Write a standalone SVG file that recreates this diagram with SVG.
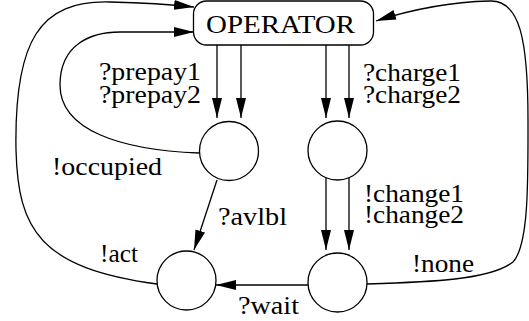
<svg xmlns="http://www.w3.org/2000/svg" width="529" height="321" viewBox="0 0 529 321">
<style>
.n{fill:#fff;stroke:#000;stroke-width:1.3}
.e{fill:none;stroke:#000;stroke-width:1.3;marker-end:url(#ah)}
.l{fill:none;stroke:#000;stroke-width:1.3}
text{font-family:"Liberation Serif","Times New Roman",serif;font-size:25px;fill:#000}
</style>
<defs>
<marker id="ah" markerUnits="userSpaceOnUse" markerWidth="20" markerHeight="10" refX="20" refY="5" orient="auto">
<path d="M0,0 L20,5 L0,10 z" fill="#000"/>
</marker>
</defs>
<rect width="529" height="321" fill="#fff"/>
<g id="connectors">
<path class="e" d="M217,45 L217,118"/>
<path class="e" d="M241,45 L241,118"/>
<path class="e" d="M326,45 L326,118"/>
<path class="e" d="M349,45 L349,118"/>
<path class="e" d="M326,178 L326,250"/>
<path class="e" d="M349,178 L349,250"/>
<path class="e" d="M217,180 L194,250"/>
<path class="e" d="M308,285 L216,285"/>
<path class="e" d="M199,153 C120,150 60,130 60,85 C60,45 90,32 120,32 L194,32"/>
<path class="e" d="M157,284 C40,268 18,230 16,150 C14,40 40,0 110,2 C150,3 175,5 194,7"/>
<path class="e" d="M367,284 C430,282 490,280 513,262 C529,245 528,180 528,120 C528,40 520,0 490,1 C450,2 410,10 376,21"/>
</g>
<g id="operator">
<rect class="n" x="193.5" y="1" width="180" height="44" rx="13"/>
<text x="206" y="33" font-size="27" textLength="149" lengthAdjust="spacingAndGlyphs">OPERATOR</text>
</g>
<g id="s1"><circle class="n" cx="229" cy="151" r="29.5"/></g>
<g id="s2"><circle class="n" cx="337.5" cy="150.5" r="29.5"/></g>
<g id="s3"><circle class="n" cx="186.5" cy="280.5" r="29.5"/></g>
<g id="s4"><circle class="n" cx="337.5" cy="282.5" r="29.5"/></g>
<g id="labels">
<text x="99" y="80" textLength="102" lengthAdjust="spacingAndGlyphs">?prepay1</text>
<text x="99" y="103" textLength="102" lengthAdjust="spacingAndGlyphs">?prepay2</text>
<text x="363" y="81" textLength="98" lengthAdjust="spacingAndGlyphs">?charge1</text>
<text x="363" y="103" textLength="98" lengthAdjust="spacingAndGlyphs">?charge2</text>
<text x="52" y="175" textLength="110" lengthAdjust="spacingAndGlyphs">!occupied</text>
<text x="218" y="225" textLength="69" lengthAdjust="spacingAndGlyphs">?avlbl</text>
<text x="364" y="202" textLength="100" lengthAdjust="spacingAndGlyphs">!change1</text>
<text x="364" y="223" textLength="100" lengthAdjust="spacingAndGlyphs">!change2</text>
<text x="100" y="262" textLength="38" lengthAdjust="spacingAndGlyphs">!act</text>
<text x="238" y="314" textLength="61" lengthAdjust="spacingAndGlyphs">?wait</text>
<text x="412" y="272" textLength="62" lengthAdjust="spacingAndGlyphs">!none</text>
</g>
</svg>
